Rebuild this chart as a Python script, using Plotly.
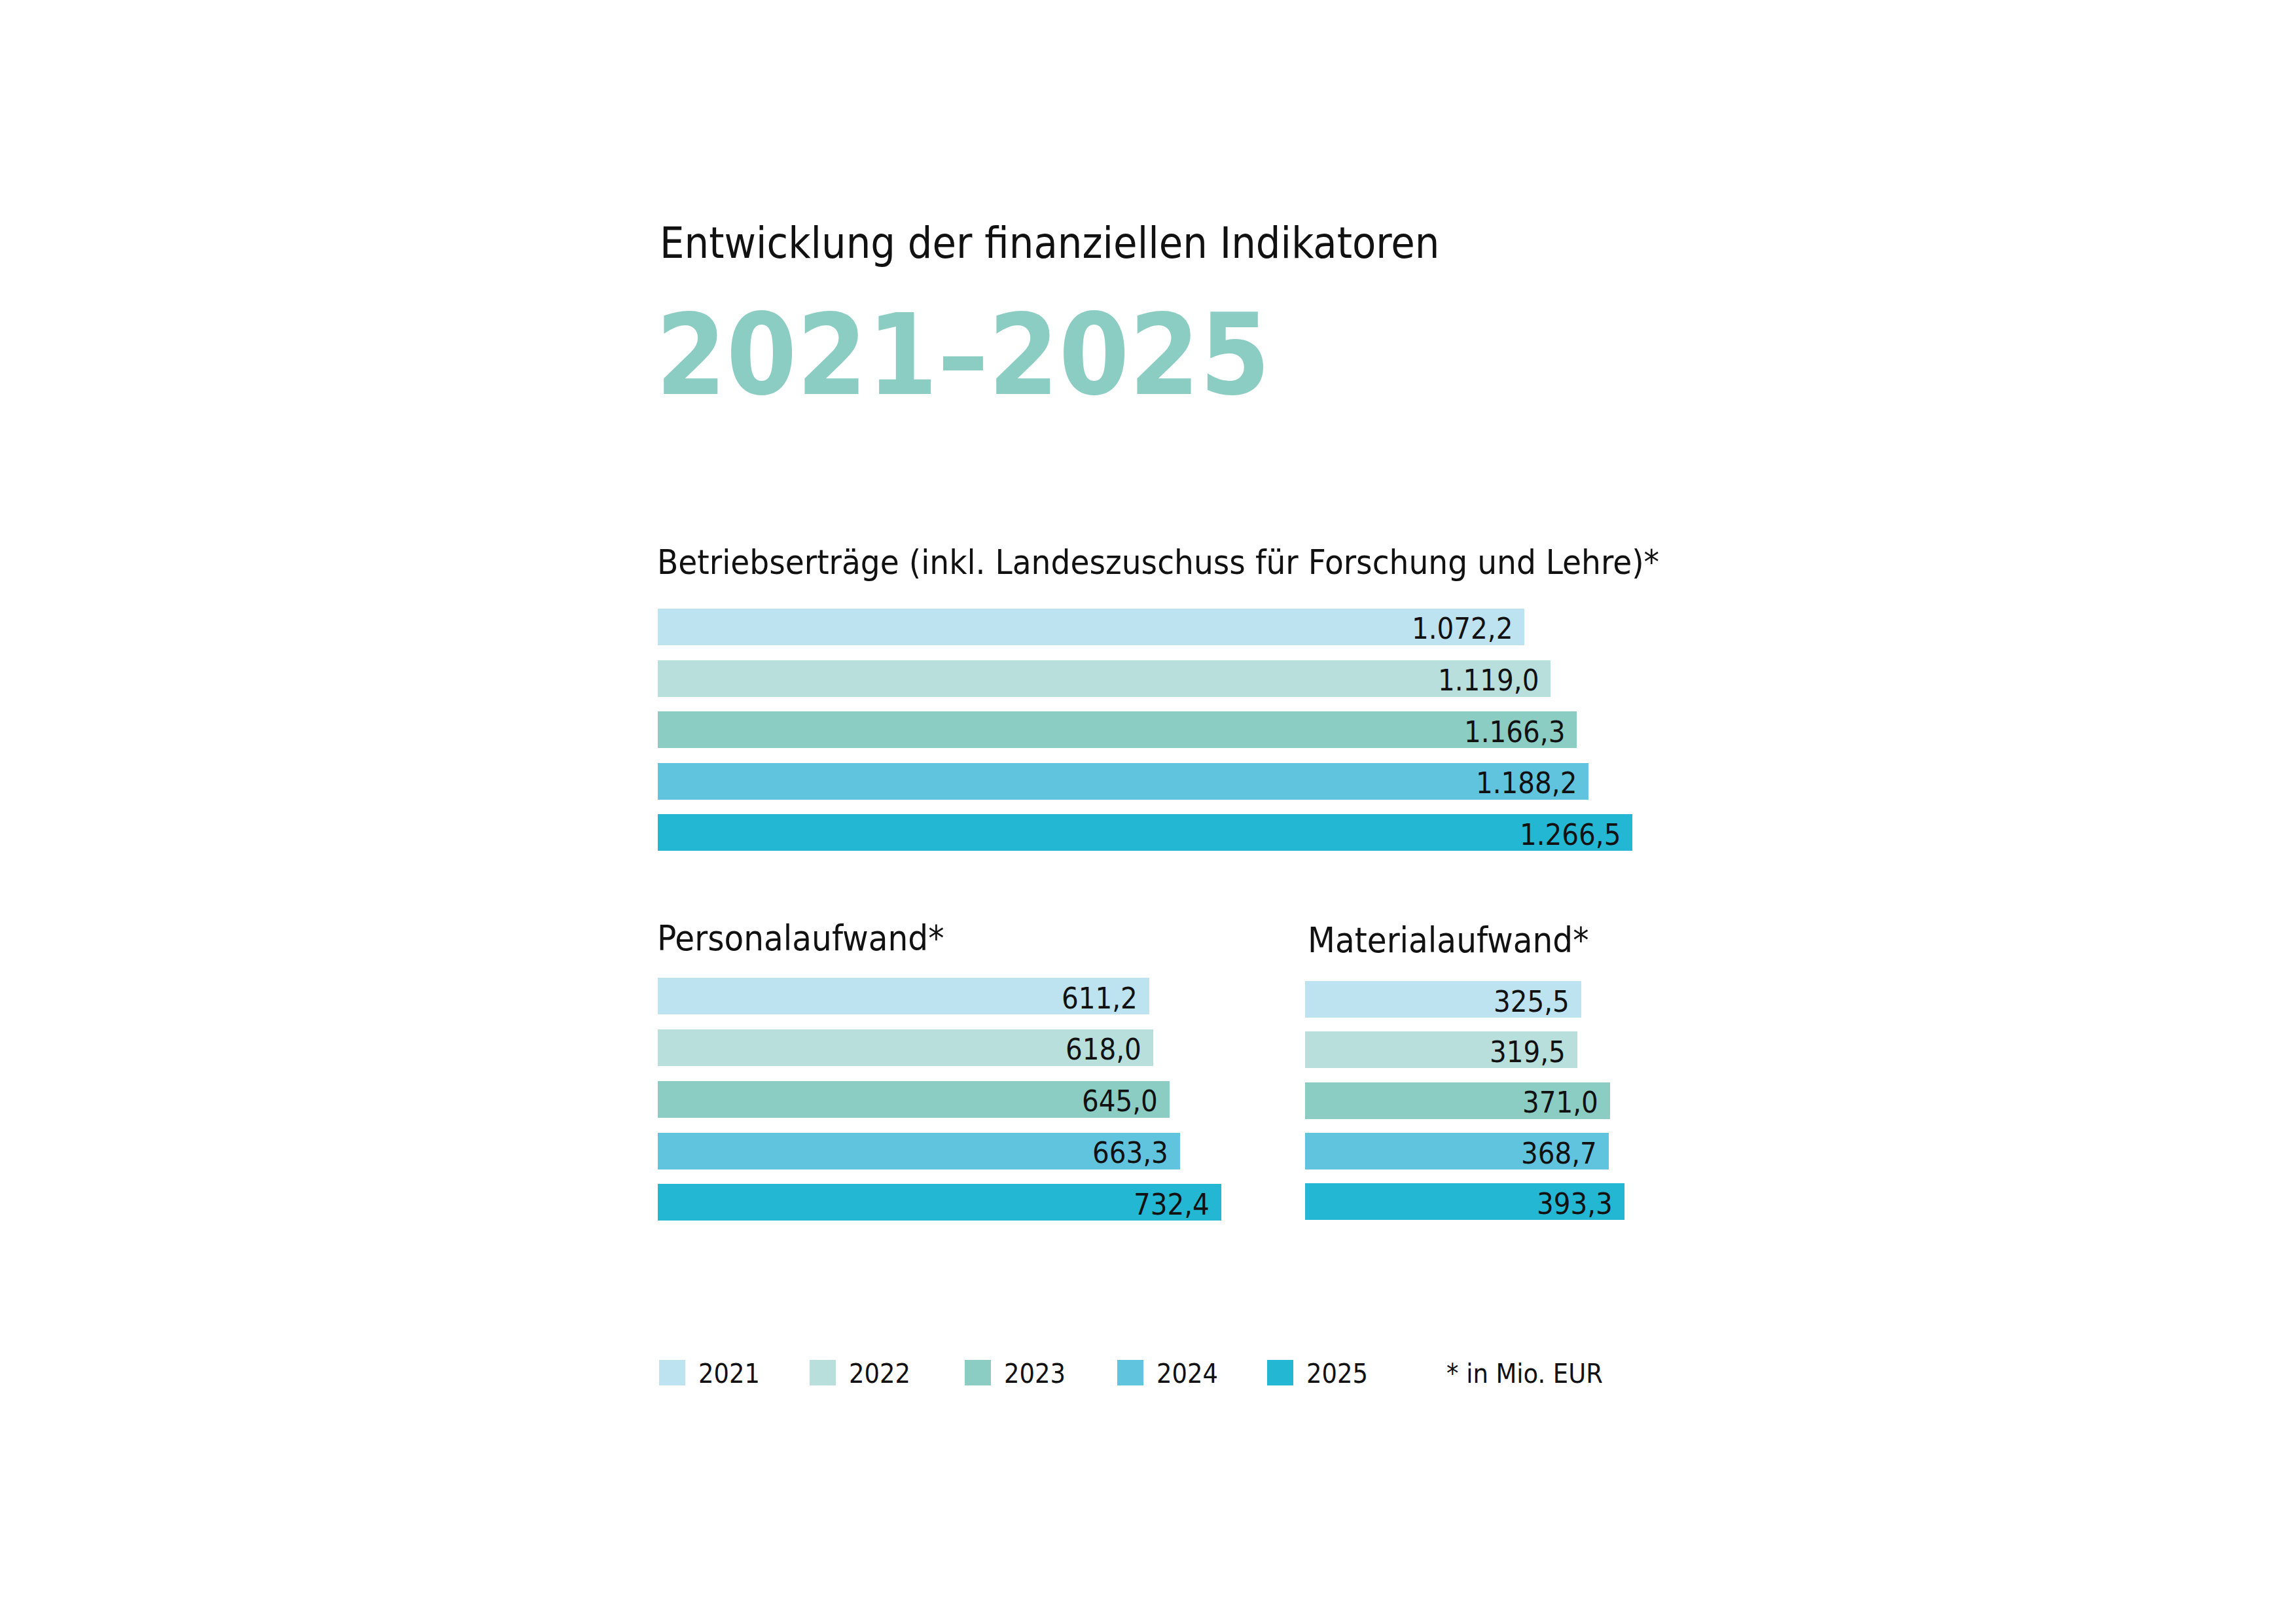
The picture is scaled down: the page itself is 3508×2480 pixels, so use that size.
import plotly.graph_objects as go

W, H = 3508, 2480

years = ["2021", "2022", "2023", "2024", "2025"]
colors = ["#BEE3F0", "#B8DFDB", "#8BCCC3", "#61C4DF", "#23B7D3"]

betrieb_vals = [1072.2, 1119.0, 1166.3, 1188.2, 1266.5]
personal_vals = [611.2, 618.0, 645.0, 663.3, 732.4]
material_vals = [325.5, 319.5, 371.0, 368.7, 393.3]

title_top = "Entwicklung der finanziellen Indikatoren"
title_big = "2021\u20132025"
label_betrieb = "Betriebserträge (inkl. Landeszuschuss für Forschung und Lehre)*"
label_personal = "Personalaufwand*"
label_material = "Materialaufwand*"
footnote = "* in Mio. EUR"

FONT = "DejaVu Sans Condensed, Roboto, sans-serif"


def px_x(p):
    return p / W


def px_y(p):
    return 1 - p / H


fig = go.Figure()

# Each panel: axis baseline (value at the left edge, as in the original graphic),
# px per unit, left edge px, first bar centre px, bar pitch px, axis max
panels = [
    (betrieb_vals, -493, 0.846, 997, 950, 78.5, 1300),
    (personal_vals, -212, 0.912, 997, 1514, 78.75, 800),
    (material_vals, -111, 0.967, 1986, 1519, 77.4, 450),
]

layout_axes = {}
annotations = []
for idx, (vals, base, scale, x0, yc0, pitch, xr) in enumerate(panels):
    xa = "x" if idx == 0 else f"x{idx+1}"
    ya = "y" if idx == 0 else f"y{idx+1}"
    x1 = x0 + (xr - base) * scale
    ytop = yc0 - pitch / 2
    ybot = ytop + pitch * 5
    fig.add_trace(go.Bar(
        x=[v - base for v in vals], base=base, y=list(range(5)), orientation="h",
        marker=dict(color=colors, line=dict(width=0)),
        width=56 / pitch, xaxis=xa, yaxis=ya, showlegend=False,
        hoverinfo="skip",
    ))
    xname = "xaxis" if idx == 0 else f"xaxis{idx+1}"
    yname = "yaxis" if idx == 0 else f"yaxis{idx+1}"
    layout_axes[xname] = dict(domain=[px_x(x0), px_x(x1)], range=[base, xr],
                              visible=False, anchor=ya, fixedrange=True)
    layout_axes[yname] = dict(domain=[px_y(ybot), px_y(ytop)], range=[4.5, -0.5],
                              visible=False, anchor=xa, fixedrange=True)
    for i, v in enumerate(vals):
        txt = f"{v:,.1f}".replace(",", "X").replace(".", ",").replace("X", ".")
        annotations.append(dict(
            x=v, y=i, xref=xa, yref=ya, text=txt, showarrow=False,
            xanchor="right", yanchor="middle", xshift=-16, yshift=-3,
            font=dict(family=FONT, size=45, color="#111111"),
        ))

# Titles
annotations.append(dict(x=px_x(998), y=px_y(363), xref="paper", yref="paper",
                        text=title_top, showarrow=False, xanchor="left", yanchor="middle",
                        font=dict(family=FONT, size=66, color="#111111")))
annotations.append(dict(x=px_x(992), y=px_y(535), xref="paper", yref="paper",
                        text=f"<b>{title_big}</b>", showarrow=False, xanchor="left", yanchor="middle",
                        font=dict(family=FONT, size=172, color="#8BCDC3")))
annotations.append(dict(x=px_x(994), y=px_y(850), xref="paper", yref="paper",
                        text=label_betrieb, showarrow=False, xanchor="left", yanchor="middle",
                        font=dict(family=FONT, size=52.4, color="#111111")))
annotations.append(dict(x=px_x(994), y=px_y(1425), xref="paper", yref="paper",
                        text=label_personal, showarrow=False, xanchor="left", yanchor="middle",
                        font=dict(family=FONT, size=54, color="#111111")))
annotations.append(dict(x=px_x(1988), y=px_y(1428), xref="paper", yref="paper",
                        text=label_material, showarrow=False, xanchor="left", yanchor="middle",
                        font=dict(family=FONT, size=54, color="#111111")))

# Legend (custom)
shapes = []
leg_x = [999, 1229, 1466, 1699, 1928]
for yr, c, lx in zip(years, colors, leg_x):
    shapes.append(dict(type="rect", xref="paper", yref="paper",
                       x0=px_x(lx), x1=px_x(lx + 40), y0=px_y(2109), y1=px_y(2070),
                       fillcolor=c, line=dict(width=0)))
    annotations.append(dict(x=px_x(lx + 58), y=px_y(2091), xref="paper", yref="paper",
                            text=yr, showarrow=False, xanchor="left", yanchor="middle",
                            font=dict(family=FONT, size=41, color="#111111")))
annotations.append(dict(x=px_x(2200), y=px_y(2091), xref="paper", yref="paper",
                        text=footnote, showarrow=False, xanchor="left", yanchor="middle",
                        font=dict(family=FONT, size=41, color="#111111")))

fig.update_layout(
    width=W, height=H,
    margin=dict(l=0, r=0, t=0, b=0),
    paper_bgcolor="white", plot_bgcolor="rgba(0,0,0,0)",
    annotations=annotations, shapes=shapes,
    bargap=0, showlegend=False,
    separators=",.",
    **layout_axes,
)

fig.write_html("out.html", config={"displayModeBar": False})
